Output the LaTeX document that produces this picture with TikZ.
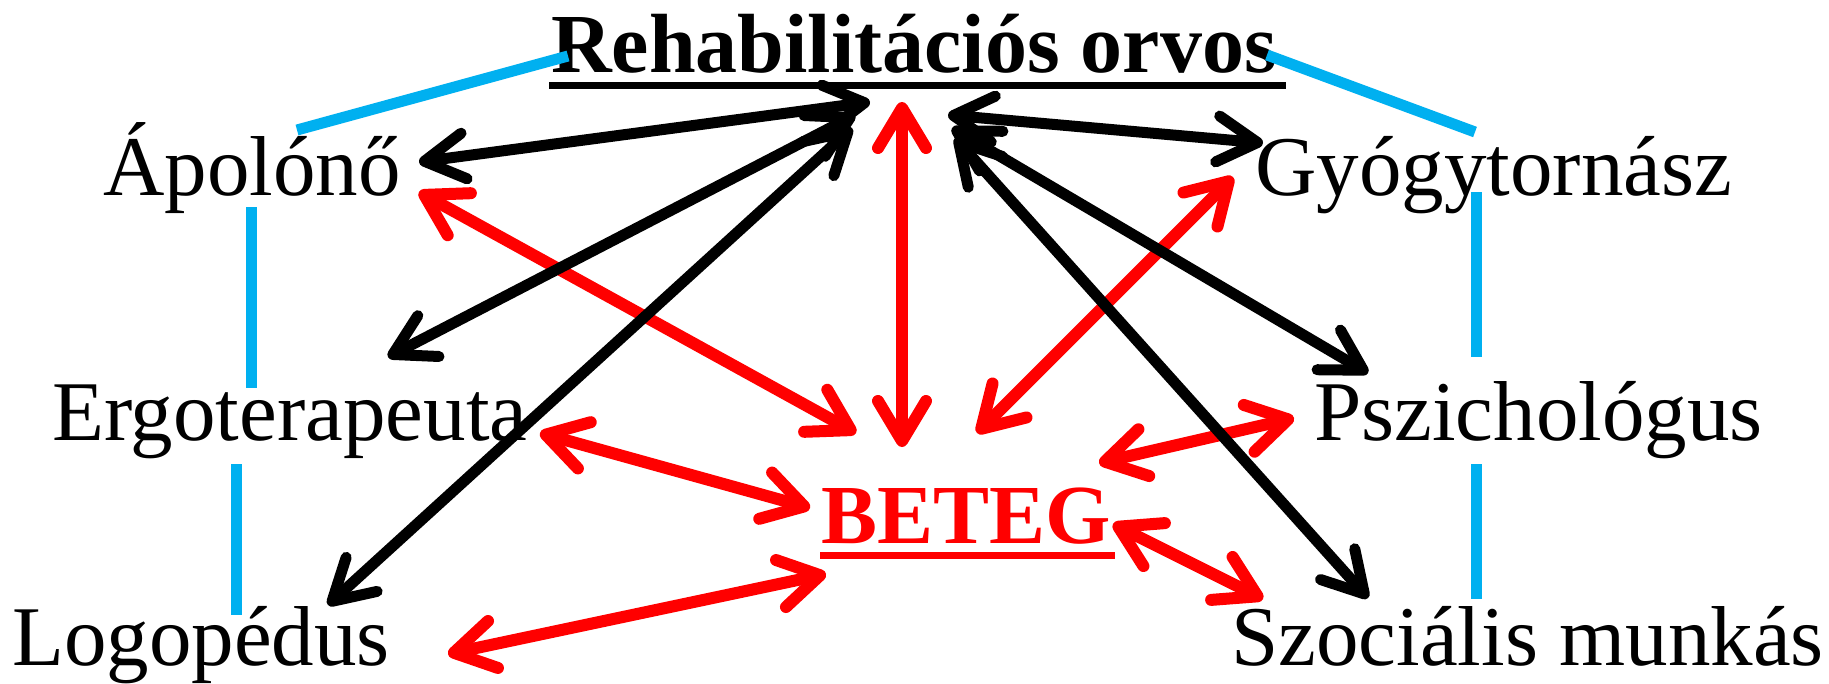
\documentclass[tikz,border=0pt]{standalone}
\usepackage{fontspec}
\setmainfont{Liberation Serif}
\usetikzlibrary{arrows.meta,calc}
\definecolor{skyb}{HTML}{00B0F0}
\definecolor{redc}{HTML}{FF0000}
\begin{document}
\begin{tikzpicture}[x=1pt,y=-1pt,
  lbl/.style={inner sep=0pt, anchor=base west, font=\fontsize{85}{90}\selectfont},
  blk/.style={line width=11pt, draw=black, {Straight Barb[length=40pt,width=46pt,round]}-{Straight Barb[length=40pt,width=46pt,round]}},
  rd/.style={line width=12pt, draw=redc, {Straight Barb[length=40pt,width=48pt,round]}-{Straight Barb[length=40pt,width=48pt,round]}},
  bl/.style={line width=11pt, draw=skyb}]
\useasboundingbox (0,0) rectangle (1829,683);
\fill[white] (0,0) rectangle (1829,683);

% texts
\node[lbl, font=\fontsize{84}{90}\selectfont\bfseries] (title) at (551,72) {Rehabilitációs orvos};
\node[lbl] (apo) at (103,195) {Ápolónő};
\node[lbl] (gyo) at (1255,195) {Gyógytornász};
\node[lbl] (erg) at (52,440) {Ergoterapeuta};
\node[lbl] (psz) at (1314,440) {Pszichológus};
\node[lbl] (log) at (12,665) {Logopédus};
\node[lbl] (szo) at (1231,665) {Szociális munkás};
\node[lbl, text=redc, font=\fontsize{84}{90}\selectfont\bfseries] (bet) at (821,543) {BETEG};

% underlines
\draw[line width=7pt] ($(title.base west)+(-2,13.5)$) -- ($(title.base east)+(9,13.5)$);
\draw[line width=7pt, redc] ($(bet.base west)+(-1,12.5)$) -- ($(bet.base east)+(4.5,12.5)$);

% blue frame lines
\coordinate (b1a) at (297,130); \coordinate (b1b) at (568,56);
\coordinate (b2a) at (1267,55); \coordinate (b2b) at (1475,132);
\coordinate (b3a) at (251.5,207); \coordinate (b3b) at (251.5,388);
\coordinate (b4a) at (236.5,464); \coordinate (b4b) at (236.5,615);
\coordinate (b5a) at (1476,192); \coordinate (b5b) at (1476,357);
\coordinate (b6a) at (1476,464); \coordinate (b6b) at (1476,599);
\draw[bl] (b1a) -- (b1b);
\draw[bl] (b2a) -- (b2b);
\draw[bl] (b3a) -- (b3b);
\draw[bl] (b4a) -- (b4b);
\draw[bl] (b5a) -- (b5b);
\draw[bl] (b6a) -- (b6b);

% black arrow ends
\coordinate (rA) at (870,102); \coordinate (aR) at (419,162);
\coordinate (rE) at (855,115); \coordinate (eR) at (388,357);
\coordinate (rL) at (852,128); \coordinate (lR) at (328,605);
\coordinate (rG) at (948,115); \coordinate (gR) at (1263,143);
\coordinate (rP) at (952,128); \coordinate (pR) at (1368,373);
\coordinate (rS) at (955,138); \coordinate (sR) at (1368,598);
% red arrow ends
\coordinate (rB) at (902,102); \coordinate (bR) at (902,447);
\coordinate (aB) at (419,192); \coordinate (bA) at (856,433);
\coordinate (gB) at (1233,177); \coordinate (bG) at (977,433);
\coordinate (eB) at (540,433); \coordinate (bE) at (810,508);
\coordinate (pB) at (1294,418); \coordinate (bP) at (1099,463);
\coordinate (lB) at (448,654); \coordinate (bL) at (826,574);
\coordinate (sB) at (1263,599); \coordinate (bS) at (1113,524);

\draw[rd] (rB) -- (bR);
\draw[rd] (aB) -- (bA);
\draw[rd] (gB) -- (bG);
\draw[rd] (eB) -- (bE);
\draw[rd] (pB) -- (bP);
\draw[rd] (lB) -- (bL);
\draw[rd] (sB) -- (bS);

\draw[blk] (rA) -- (aR);
\draw[blk] (rE) -- (eR);
\draw[blk] (rL) -- (lR);
\draw[blk] (rG) -- (gR);
\draw[blk] (rP) -- (pR);
\draw[blk] (rS) -- (sR);
\end{tikzpicture}
\end{document}
